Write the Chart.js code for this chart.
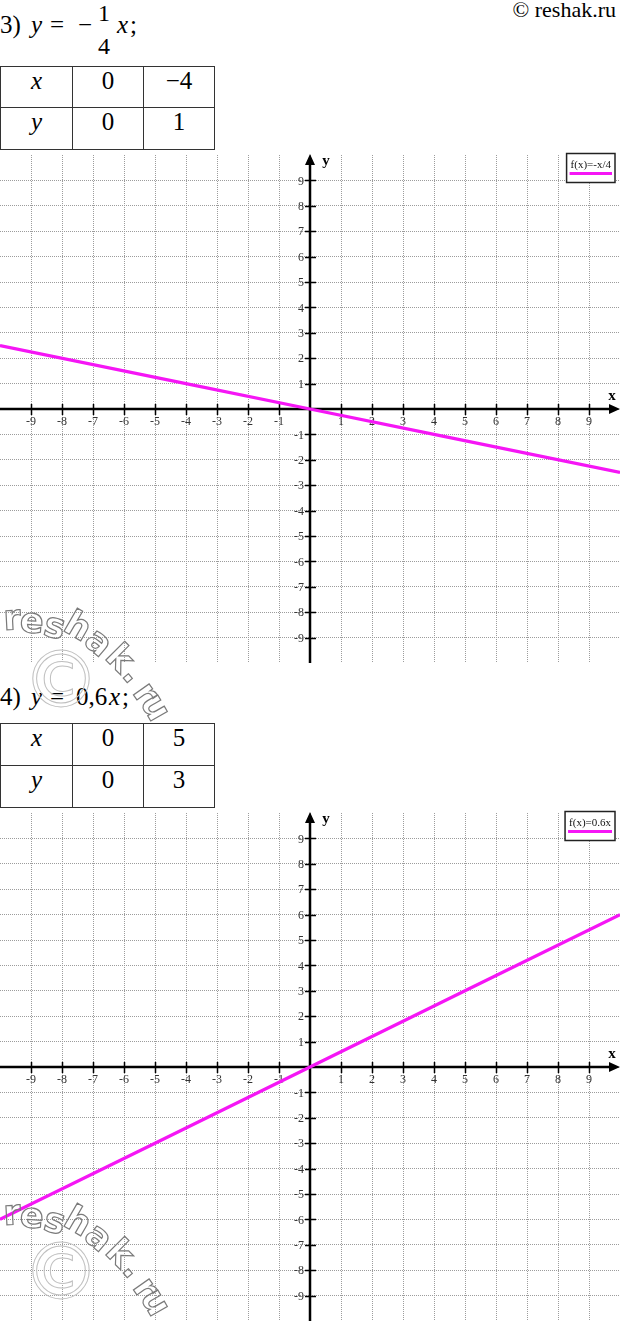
<!DOCTYPE html>
<html>
<head>
<meta charset="utf-8">
<script src="https://cdn.jsdelivr.net/npm/chart.js@4.4.1/dist/chart.umd.min.js"></script>
<style>
  html, body { margin: 0; padding: 0; background: #fff; }
  #page { position: relative; width: 620px; height: 1321px; overflow: hidden; background: #fff; color: #000; }
  .t, table.vals, table.vals td, #copy { font-family: "Liberation Serif", "Times New Roman", "DejaVu Serif", serif; }
  .t { position: absolute; font-size: 25px; line-height: 25px; white-space: nowrap; }
  .i { font-style: italic; }
  .frac { font-size: 24px; line-height: 24px; }
  table.vals { position: absolute; left: 0; border-collapse: collapse; font-size: 25px; }
  table.vals td { border: 1.5px solid #333; text-align: center; vertical-align: top; padding: 1px 0 0 0; line-height: 25px; box-sizing: border-box; font-size: 25px; }
  .chartbox { position: absolute; left: 0; width: 620px; }
  .wm { position: absolute; font-family: "DejaVu Sans", sans-serif; font-weight: bold; font-size: 35px; line-height: 35px; color: transparent; -webkit-text-stroke: 1.2px #7a7a7a; transform-origin: 50% 50%; }
  .wmc { position: absolute; font-family: "DejaVu Sans", sans-serif; font-size: 78px; line-height: 78px; color: transparent; -webkit-text-stroke: 1px #c0c0c0; }
  #copy { position: absolute; right: 4px; top: -1px; font-size: 22px; line-height: 22px; }
</style>
</head>
<body>
<div id="page">
  <div id="copy">© reshak.ru</div>

  <!-- Heading 3 -->
  <span class="t" style="left:0;top:12px">3)</span>
  <span class="t i" style="left:31px;top:12px">y</span>
  <span class="t" style="left:50px;top:12px">=</span>
  <span class="t" style="left:78px;top:12px">−</span>
  <span class="t frac" style="left:98px;top:1px">1</span>
  <span class="t frac" style="left:98px;top:34px">4</span>
  <span class="t i" style="left:117px;top:12px">x</span>
  <span class="t" style="left:130px;top:12px">;</span>

  <table class="vals" id="table1" style="top:66px"></table>

  <div class="chartbox" style="top:150px;height:518px"><canvas id="c1" width="620" height="518"></canvas></div>

  <!-- Heading 4 -->
  <span class="t" style="left:0;top:684px">4)</span>
  <span class="t i" style="left:31px;top:684px">y</span>
  <span class="t" style="left:50px;top:684px">=</span>
  <span class="t" style="left:76px;top:684px">0,6</span>
  <span class="t i" style="left:109px;top:684px">x</span>
  <span class="t" style="left:122px;top:684px">;</span>

  <table class="vals" id="table2" style="top:723px"></table>

  <div class="chartbox" style="top:808px;height:513px"><canvas id="c2" width="620" height="513"></canvas></div>

  <div id="wm"></div>
</div>

<script>
// ---------- data ----------
const xRange = [-10, 10];
const yRange = [-10, 10];
const tickValues = [-9, -8, -7, -6, -5, -4, -3, -2, -1, 1, 2, 3, 4, 5, 6, 7, 8, 9];
const tickLabels = ['-9', '-8', '-7', '-6', '-5', '-4', '-3', '-2', '-1', '1', '2', '3', '4', '5', '6', '7', '8', '9'];

const series1Label = 'f(x)=-x/4';
const series1X = [-10, -4, 0, 4, 10];
const series1Y = [2.5, 1, 0, -1, -2.5];

const series2Label = 'f(x)=0.6x';
const series2X = [-10, -5, 0, 5, 10];
const series2Y = [-6, -3, 0, 3, 6];

const tableHeader = ['x', 'y'];
const table1X = ['0', '−4'];
const table1Y = ['0', '1'];
const table2X = ['0', '5'];
const table2Y = ['0', '3'];

// ---------- tables ----------
function buildTable(id, xs, ys, rowHeights) {
  const t = document.getElementById(id);
  const widths = [72, 71, 71];
  [[tableHeader[0]].concat(xs), [tableHeader[1]].concat(ys)].forEach((row, r) => {
    const tr = document.createElement('tr');
    row.forEach((v, c) => {
      const td = document.createElement('td');
      td.textContent = v;
      if (c === 0) td.style.fontStyle = 'italic';
      td.style.width = widths[c] + 'px';
      td.style.height = rowHeights[r] + 'px';
      tr.appendChild(td);
    });
    t.appendChild(tr);
  });
}
buildTable('table1', table1X, table1Y, [41, 42]);
buildTable('table2', table2X, table2Y, [42, 42]);

// ---------- watermark (decorative) ----------
const wmLetters = [
  ['r', 12, 0, -3], ['e', 32, 3, 4], ['s', 55, 8, 14], ['h', 78, 8, 30],
  ['a', 99, 24, 40], ['k', 120, 40, 45], ['.', 134, 55, 50], ['r', 146, 75, 55], ['u', 156, 89, 60]
];
function addWatermark(baseY, circleY) {
  const wm = document.getElementById('wm');
  wmLetters.forEach(([ch, cx, dy, rot]) => {
    const s = document.createElement('span');
    s.className = 'wm';
    s.textContent = ch;
    s.style.left = cx + 'px';
    s.style.top = (baseY + dy) + 'px';
    s.style.transform = 'translate(-50%,-50%) rotate(' + rot + 'deg)';
    wm.appendChild(s);
  });
  const c = document.createElement('span');
  c.className = 'wmc';
  c.textContent = '©';
  c.style.left = '61px';
  c.style.top = circleY + 'px';
  c.style.transform = 'translate(-50%,-50%)';
  wm.appendChild(c);
}
addWatermark(618, 680);
addWatermark(1213, 1272);

// ---------- charts ----------
const LINE_COLOR = '#f516f5';

const cartesianPlugin = {
  id: 'cartesianAxes',
  beforeDatasetsDraw(chart) {
    const { ctx, chartArea: a, scales: { x, y } } = chart;
    const ox = x.getPixelForValue(0), oy = y.getPixelForValue(0);
    ctx.save();
    ctx.strokeStyle = '#000';
    ctx.fillStyle = '#000';
    ctx.lineWidth = 2.5;
    ctx.beginPath();
    ctx.moveTo(a.left, oy); ctx.lineTo(a.right - 6, oy);
    ctx.moveTo(ox, a.bottom); ctx.lineTo(ox, a.top + 6);
    ctx.stroke();
    ctx.beginPath();
    ctx.moveTo(a.right, oy); ctx.lineTo(a.right - 11, oy - 5); ctx.lineTo(a.right - 11, oy + 5); ctx.closePath();
    ctx.moveTo(ox, a.top - 1); ctx.lineTo(ox - 5, a.top + 10); ctx.lineTo(ox + 5, a.top + 10); ctx.closePath();
    ctx.fill();
    ctx.lineWidth = 1.5;
    ctx.beginPath();
    tickValues.forEach(v => {
      const px = Math.round(x.getPixelForValue(v)) + 0.5;
      ctx.moveTo(px, oy - 5); ctx.lineTo(px, oy + 6);
      const py = Math.round(y.getPixelForValue(v)) + 0.5;
      ctx.moveTo(ox - 5, py); ctx.lineTo(ox + 6, py);
    });
    ctx.stroke();
    ctx.fillStyle = '#333';
    ctx.font = '12px "Liberation Serif", serif';
    ctx.textBaseline = 'middle';
    tickValues.forEach((v, i) => {
      ctx.textAlign = 'center';
      ctx.fillText(tickLabels[i], x.getPixelForValue(v), oy + 13);
      ctx.textAlign = 'right';
      ctx.fillText(tickLabels[i], ox - 6, y.getPixelForValue(v) + 1);
    });
    ctx.fillStyle = '#000';
    ctx.font = 'bold 15px "Liberation Serif", serif';
    ctx.textAlign = 'center';
    ctx.fillText('x', a.right - 8, oy - 13);
    ctx.fillText('y', ox + 16, a.top + 6);
    ctx.restore();
  },
  afterDatasetsDraw(chart) {
    const { ctx, chartArea: a } = chart;
    const ds = chart.data.datasets[0];
    ctx.save();
    ctx.font = '11px "Liberation Serif", serif';
    const tw = ctx.measureText(ds.label).width;
    const pad = 4;
    const bw = tw + pad * 2, bh = 29;
    const bx = a.right - 5 - bw, by = a.top - 1.5;
    ctx.fillStyle = '#fff';
    ctx.fillRect(bx, by, bw, bh);
    ctx.strokeStyle = '#222';
    ctx.lineWidth = 1.5;
    ctx.strokeRect(bx, by, bw, bh);
    ctx.fillStyle = '#111';
    ctx.textBaseline = 'middle';
    ctx.textAlign = 'left';
    ctx.fillText(ds.label, bx + pad, by + 12);
    ctx.strokeStyle = ds.borderColor;
    ctx.lineWidth = 3;
    ctx.beginPath();
    ctx.moveTo(bx + pad - 1, by + 20); ctx.lineTo(bx + bw - pad + 1, by + 20);
    ctx.stroke();
    ctx.restore();
  }
};

function gridColor(ctx) {
  if (ctx.tick && (ctx.tick.value <= xRange[0] || ctx.tick.value >= xRange[1])) return 'rgba(0,0,0,0)';
  return '#9c9c9c';
}

function makeChart(id, label, xs, ys, pad) {
  const scaleOpts = (min, max, pos) => ({
    type: 'linear', min, max, position: pos, display: true,
    ticks: { display: false, stepSize: 1 },
    grid: { color: gridColor, lineWidth: 1, drawTicks: false },
    border: { display: false, dash: [1, 1] }
  });
  return new Chart(document.getElementById(id), {
    type: 'scatter',
    data: {
      datasets: [{
        label,
        data: xs.map((v, i) => ({ x: v, y: ys[i] })),
        showLine: true,
        borderColor: LINE_COLOR,
        backgroundColor: LINE_COLOR,
        borderWidth: 3.2,
        pointRadius: 0,
        tension: 0
      }]
    },
    options: {
      responsive: false,
      animation: false,
      devicePixelRatio: 1,
      layout: { padding: pad },
      plugins: { legend: { display: false }, tooltip: { enabled: false } },
      scales: {
        x: scaleOpts(xRange[0], xRange[1], 'bottom'),
        y: scaleOpts(yRange[0], yRange[1], 'left')
      }
    },
    plugins: [cartesianPlugin]
  });
}

makeChart('c1', series1Label, series1X, series1Y, { top: 5, bottom: 5, left: 0, right: 0 });
makeChart('c2', series2Label, series2X, series2Y, { top: 5, bottom: 0, left: 0, right: 0 });
</script>
</body>
</html>
